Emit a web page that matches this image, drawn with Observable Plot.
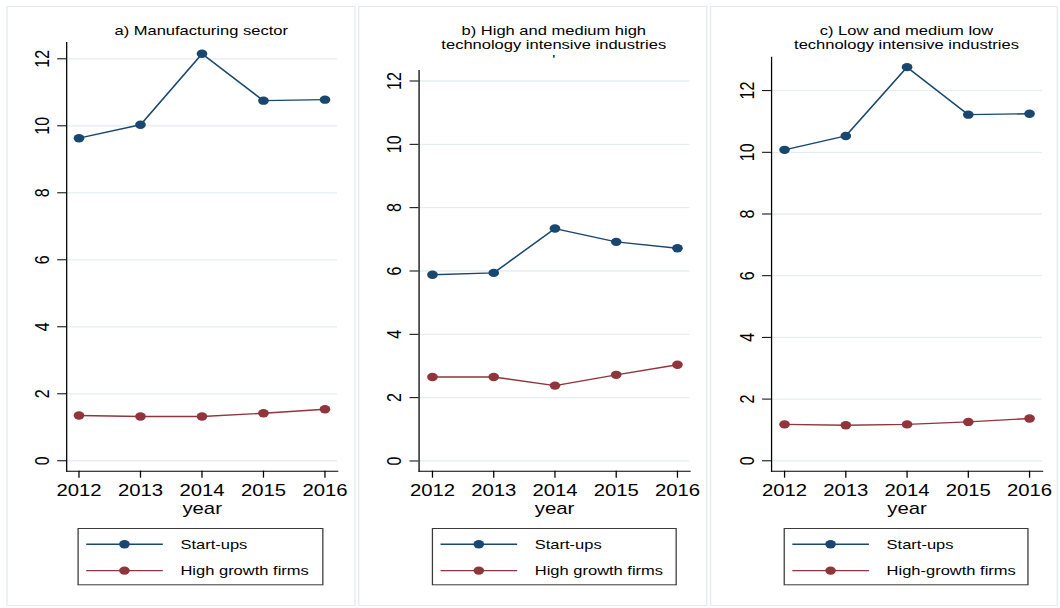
<!DOCTYPE html>
<html><head><meta charset="utf-8">
<script src="https://cdn.jsdelivr.net/npm/d3@7"></script>
<script src="https://cdn.jsdelivr.net/npm/@observablehq/plot@0.6"></script>
<style>
html,body{margin:0;padding:0;background:#fff;}
#stage{position:relative;height:608px;transform-origin:0 0;font-family:"Liberation Sans",Arial,Helvetica,sans-serif;color:#000;overflow:visible;}
.panel{position:absolute;top:6px;height:600px;border:1px solid #e2ebef;box-sizing:border-box;}
.title{position:absolute;font-size:13px;text-align:center;line-height:14.3px;white-space:nowrap;transform:translateX(-50%);}
.chart{position:absolute;top:0;}
.legend{position:absolute;overflow:visible;}
</style></head><body><div id="stage"></div>
<script>
// ---- data ----
const years = [2012, 2013, 2014, 2015, 2016];
const yTicks = [0, 2, 4, 6, 8, 10, 12];
const seriesNames = ["Start-ups", "High growth firms"];
const seriesColors = ["#1a476f", "#90353b"];
const startupsA = [9.63, 10.03, 12.15, 10.75, 10.78];
const hgfA = [1.35, 1.32, 1.32, 1.42, 1.54];
const startupsB = [5.88, 5.94, 7.34, 6.92, 6.72];
const hgfB = [2.65, 2.65, 2.38, 2.72, 3.04];
const startupsC = [10.08, 10.53, 12.76, 11.22, 11.25];
const hgfC = [1.18, 1.15, 1.18, 1.26, 1.37];
const titlesA = ["a) Manufacturing sector"];
const titlesB = ["b) High and medium high", "technology intensive industries", "'"];
const titlesC = ["c) Low and medium low", "technology intensive industries"];
const legendA = ["Start-ups", "High growth firms"];
const legendB = ["Start-ups", "High growth firms"];
const legendC = ["Start-ups", "High-growth firms"];
const xLabel = "year";

// ---- layout (screen px; the page is stretched horizontally by S) ----
const S = 1.27;
const W = 1060 / S;
const stage = document.getElementById("stage");
stage.style.width = W + "px";
stage.style.transform = `scaleX(${S})`;

const panels = [
  {startups: startupsA, hgf: hgfA, titles: titlesA, legend: legendA,
   left: 6, right: 356, axisX: 65.7, plotRight: 336.7, x0: 78, x1: 324, top: 42, bottom: 470.7, y0: 460.3, y12: 58.3},
  {startups: startupsB, hgf: hgfB, titles: titlesB, legend: legendB,
   left: 358, right: 708, axisX: 418.3, plotRight: 689.3, x0: 431.7, x1: 676.7, top: 70, bottom: 470.7, y0: 460.5, y12: 80.5},
  {startups: startupsC, hgf: hgfC, titles: titlesC, legend: legendC,
   left: 710, right: 1058, axisX: 771, plotRight: 1042, x0: 784, x1: 1029, top: 56.7, bottom: 470.7, y0: 460.3, y12: 90.1}
];

const H = 530;
for (const p of panels) {
  const frame = document.createElement("div");
  frame.className = "panel";
  frame.style.left = (p.left / S) + "px";
  frame.style.width = ((p.right - p.left) / S) + "px";
  stage.appendChild(frame);

  const data = [];
  years.forEach((yr, i) => {
    data.push({year: yr, value: p.startups[i], series: seriesNames[0]});
  });
  years.forEach((yr, i) => {
    data.push({year: yr, value: p.hgf[i], series: seriesNames[1]});
  });

  const chart = Plot.plot({
    width: (p.right - p.left) / S,
    height: H,
    marginLeft: (p.axisX - p.left) / S,
    marginRight: (p.right - p.plotRight) / S,
    marginTop: p.top,
    marginBottom: H - p.bottom,
    insetLeft: (p.x0 - p.axisX) / S,
    insetRight: (p.plotRight - p.x1) / S,
    insetTop: p.y12 - p.top,
    insetBottom: p.bottom - p.y0,
    style: {fontFamily: '"Liberation Sans", Arial, sans-serif', fontSize: "16px", background: "transparent", overflow: "visible"},
    x: {type: "linear", domain: d3.extent(years)},
    y: {domain: d3.extent(yTicks)},
    color: {domain: seriesNames, range: seriesColors},
    marks: [
      Plot.gridY(yTicks, {stroke: "#e6eef1", strokeOpacity: 1, strokeWidth: 1.3}),
      Plot.frame({anchor: "left", stroke: "#000", strokeWidth: 1}),
      Plot.frame({anchor: "bottom", stroke: "#000", strokeWidth: 1}),
      Plot.axisY(yTicks, {tickSize: 7, tickRotate: -90, textAnchor: "middle", lineAnchor: "middle", tickPadding: 12, fontSize: 16, label: null, tickFormat: d => String(d)}),
      Plot.axisX(years, {tickSize: 7, tickPadding: 6, fontSize: 16, label: null, tickFormat: d => String(d)}),
      Plot.text([xLabel], {frameAnchor: "bottom", dy: 37.6, fontSize: 16, lineAnchor: "middle"}),
      Plot.line(data, {x: "year", y: "value", stroke: "series", z: "series", strokeWidth: 1.4}),
      Plot.dot(data, {x: "year", y: "value", fill: "series", r: 4.2})
    ]
  });
  chart.classList.add("chart");
  chart.style.left = (p.left / S) + "px";
  stage.appendChild(chart);

  // title
  const t = document.createElement("div");
  t.className = "title";
  t.style.left = ((p.axisX + p.plotRight) / 2 / S) + "px";
  t.style.top = "24px";
  t.innerHTML = p.titles.map(s => `<div>${s}</div>`).join("");
  stage.appendChild(t);

  // legend
  const lw = (p.x1 - p.x0) / S, lh = 57.3;
  const svg = d3.create("svg")
    .attr("class", "legend")
    .attr("width", lw).attr("height", lh)
    .style("left", (p.x0 / S) + "px").style("top", "527.7px");
  svg.append("rect").attr("x", 0.5).attr("y", 0.5).attr("width", lw - 1).attr("height", lh - 1)
    .attr("fill", "#fff").attr("stroke", "#3a3a3a").attr("stroke-width", 1);
  const rowsY = [16.3, 42.6];
  p.legend.forEach((lab, i) => {
    const g = svg.append("g").attr("transform", `translate(0,${rowsY[i]})`);
    g.append("line").attr("x1", 6.9).attr("x2", 67.2).attr("y1", 0).attr("y2", 0)
      .attr("stroke", seriesColors[i]).attr("stroke-width", 1.4);
    g.append("circle").attr("cx", 37).attr("cy", 0).attr("r", 4.2).attr("fill", seriesColors[i]);
    g.append("text").attr("x", 81.1).attr("y", 0).attr("dy", "0.35em")
      .attr("font-size", 13).attr("font-family", '"Liberation Sans", Arial, sans-serif').text(lab);
  });
  stage.appendChild(svg.node());
}
</script>
</body></html>
